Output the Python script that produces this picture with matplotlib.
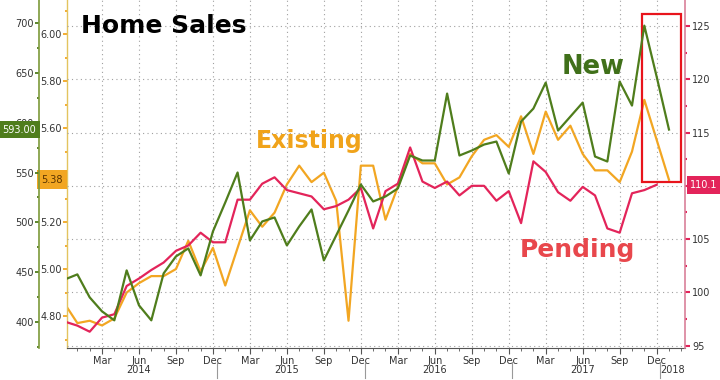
import numpy as np
import matplotlib
matplotlib.use("Agg")
import matplotlib.pyplot as plt
from matplotlib.patches import Rectangle
from matplotlib.ticker import MultipleLocator

# monthly, Dec 2013 .. Jan 2018
new_sales = [443, 448, 425, 411, 402, 452, 417, 402, 449, 466, 474, 447, 491, 520, 550,
             482, 501, 505, 477, 496, 513, 462, 487, 512, 538, 521, 526, 534, 567, 562,
             562, 629, 567, 572, 578, 581, 549, 601, 614, 640, 592, 606, 620, 566, 561,
             641, 617, 697, 646, 593]
existing_sales = [4.85, 4.77, 4.78, 4.76, 4.79, 4.90, 4.94, 4.97, 4.97, 5.00, 5.12, 4.99,
                  5.09, 4.93, 5.09, 5.25, 5.18, 5.24, 5.36, 5.44, 5.37, 5.41, 5.29, 4.78,
                  5.44, 5.44, 5.21, 5.35, 5.49, 5.45, 5.45, 5.36, 5.39, 5.48, 5.55, 5.57,
                  5.52, 5.65, 5.49, 5.67, 5.55, 5.61, 5.49, 5.42, 5.42, 5.37, 5.50, 5.72,
                  5.55, 5.38]
# Dec 2013 .. Dec 2017
pending_index = [97.25, 96.88, 96.31, 97.63, 97.95, 100.6, 101.3, 102.1, 102.8, 103.9,
                 104.4, 105.6, 104.7, 104.7, 108.7, 108.7, 110.2, 110.8, 109.6, 109.3,
                 109.0, 107.8, 108.1, 108.7, 109.8, 106.0, 109.5, 110.2, 113.6, 110.4,
                 109.8, 110.4, 109.1, 110.0, 110.0, 108.6, 109.5, 106.5, 112.3, 111.3,
                 109.4, 108.6, 109.9, 109.1, 106.0, 105.6, 109.3, 109.6, 110.1]
quarter_labels = ["Mar", "Jun", "Sep", "Dec"]
years = ["2014", "2015", "2016", "2017", "2018"]

GREEN = "#4f7d1c"
ORANGE = "#f2a622"
RED = "#e3245a"

plt.rcParams["font.family"] = ["DejaVu Sans"]

x_main = np.arange(len(new_sales))
x_pend = np.arange(len(pending_index))

fig = plt.figure(figsize=(7.2, 3.8), dpi=100)
ax = fig.add_axes([67 / 720, 32 / 380, 618 / 720, 348 / 380])
axr = ax.twinx()
axn = ax.twinx()

# existing (inner left axis)
ax.plot(x_main, existing_sales, color=ORANGE, lw=1.6)
ax.set_ylim(4.664, 6.145)
ax.yaxis.set_major_locator(MultipleLocator(0.2))
ax.yaxis.set_minor_locator(MultipleLocator(0.1))
ax.yaxis.set_major_formatter(lambda v, p: f"{v:.2f}")
ax.tick_params(axis="y", which="both", color=ORANGE, labelcolor="#333333",
               labelsize=7, pad=1, width=1.3)
ax.tick_params(axis="y", which="major", length=3)
ax.tick_params(axis="y", which="minor", length=1.5)

# pending (right axis)
axr.plot(x_pend, pending_index, color=RED, lw=1.6)
axr.set_ylim(94.78, 127.44)
axr.yaxis.set_major_locator(MultipleLocator(5))
axr.yaxis.set_minor_locator(MultipleLocator(2.5))
axr.tick_params(axis="y", which="both", color=RED, labelcolor="#333333",
                labelsize=7, pad=1.5, width=1.5)
axr.tick_params(axis="y", which="major", length=3.5)
axr.tick_params(axis="y", which="minor", length=1.5)
axr.grid(axis="y", color="#a0a0a0", lw=0.8, ls=(0, (1, 3)))

# new (outer left axis)
axn.plot(x_main, new_sales, color=GREEN, lw=1.6)
axn.set_ylim(374.3, 722.7)
axn.yaxis.set_ticks_position("left")
axn.yaxis.set_label_position("left")
axn.spines["left"].set_visible(True)
axn.spines["left"].set_position(("outward", 20))
axn.yaxis.set_major_locator(MultipleLocator(50))
axn.yaxis.set_minor_locator(MultipleLocator(25))
axn.tick_params(axis="y", which="both", color=GREEN, labelcolor="#333333",
                labelsize=7, pad=1, width=1.3)
axn.tick_params(axis="y", which="major", length=3)
axn.tick_params(axis="y", which="minor", length=1.5)

for a in (ax, axr, axn):
    a.spines["top"].set_visible(False)
    a.set_xlim(0.16, 50.3)
for a in (ax, axn):
    a.spines["right"].set_visible(False)
axr.spines["left"].set_visible(False)
axn.spines["bottom"].set_visible(False)
axr.spines["bottom"].set_visible(False)
ax.spines["left"].set_color("#e3c45f")
ax.spines["left"].set_linewidth(1)
axn.spines["left"].set_color("#7d9a3a")
axn.spines["left"].set_linewidth(1.2)
axr.spines["right"].set_color("#d9809a")
axr.spines["right"].set_linewidth(1.2)
ax.spines["bottom"].set_color("#555555")

# x axis: quarters labelled, months as minor ticks
q_ticks = np.arange(3, len(new_sales), 3)
ax.set_xticks(q_ticks)
ax.set_xticklabels([quarter_labels[k % 4] for k in range(len(q_ticks))])
ax.xaxis.set_minor_locator(MultipleLocator(1))
ax.tick_params(axis="x", which="major", length=4, color="#555555",
               labelsize=7, labelcolor="#333333", pad=1.5)
ax.tick_params(axis="x", which="minor", length=2, color="#555555")
ax.grid(axis="x", color="#a0a0a0", lw=0.8, ls=(0, (1, 3)))

xt = ax.get_xaxis_transform()
for k, yr in enumerate(years):
    xpos = 6 + 12 * k if k < 4 else 49.3
    ax.text(xpos, -0.063, yr, transform=xt, ha="center", va="center",
            fontsize=7, color="#333333")
    if k < 4:
        ax.plot([12.3 + 12 * k] * 2, [-0.04, -0.087], transform=xt,
                color="#999999", lw=0.8, clip_on=False)

# last-value tags (drawn over the axis labels they hide)
axn.text(-0.077, new_sales[-1], f"{new_sales[-1]:.2f}", transform=axn.get_yaxis_transform(),
         ha="center", va="center", fontsize=7, color="white", zorder=20,
         bbox=dict(boxstyle="square,pad=0.35", fc=GREEN, ec="none"))
ax.text(-0.024, existing_sales[-1], f"{existing_sales[-1]:.2f}",
        transform=ax.get_yaxis_transform(), ha="center", va="center", fontsize=7,
        color="#5a3300", zorder=20,
        bbox=dict(boxstyle="square,pad=0.45", fc=ORANGE, ec="none"))
axr.text(1.031, pending_index[-1], f"{pending_index[-1]:.1f}",
         transform=axr.get_yaxis_transform(), ha="center", va="center", fontsize=7,
         color="white", zorder=20,
         bbox=dict(boxstyle="square,pad=0.4", fc=RED, ec="none"))

# highlight box around the latest months
axr.add_patch(Rectangle((x_main[-3] - 0.2, pending_index[-1] + 0.25),
                        3.2, 126.1 - pending_index[-1] - 0.25,
                        fill=False, ec="#e8141c", lw=1.6, clip_on=False, zorder=5))

fig.text(81 / 720, 1 - 33 / 380, "Home Sales", fontsize=18, fontweight="bold",
         color="black", ha="left", va="baseline")
fig.text(256 / 720, 1 - 148 / 380, "Existing", fontsize=17, fontweight="bold",
         color="#f0a31a", ha="left", va="baseline")
fig.text(562 / 720, 1 - 74 / 380, "New", fontsize=18.5, fontweight="bold",
         color="#40701a", ha="left", va="baseline")
fig.text(520 / 720, 1 - 256.5 / 380, "Pending", fontsize=18, fontweight="bold",
         color="#e8474c", ha="left", va="baseline")

fig.savefig("out.png", dpi=100)
